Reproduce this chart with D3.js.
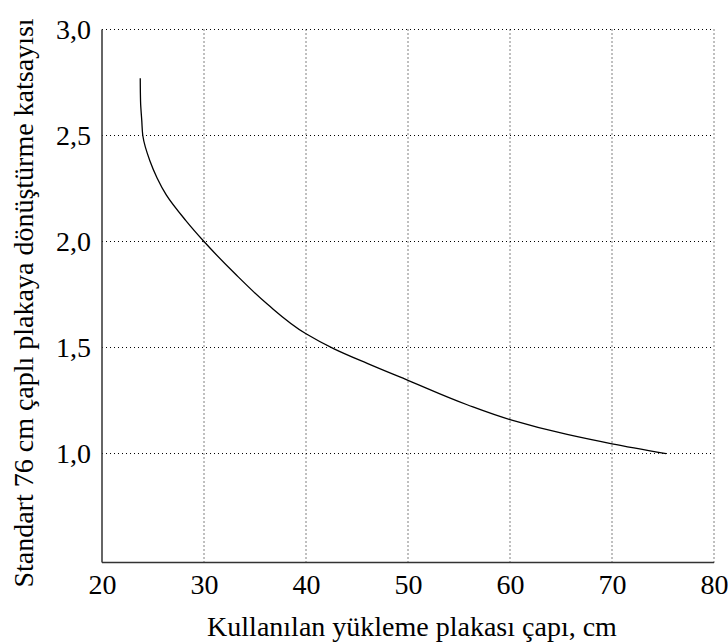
<!DOCTYPE html>
<html>
<head>
<meta charset="utf-8">
<script src="https://cdn.jsdelivr.net/npm/d3@7"></script>
<style>
  html, body { margin: 0; padding: 0; background: #fff; }
  svg { display: block; }
  text { font-family: "Liberation Serif", "Times New Roman", serif; fill: #000; }
</style>
</head>
<body>
<svg id="chart" width="728" height="644"></svg>
<script>
// Data
const plateDiameter = [23.75, 23.78, 23.9, 24.0, 24.7, 25.4, 26.3, 28.2, 30.0, 33.0, 36.2, 40.0, 42.7, 46.0, 50.0, 55.8, 60.0, 65.6, 70.0, 75.3];
const conversionFactor = [2.77, 2.66, 2.57, 2.50, 2.38, 2.30, 2.22, 2.10, 2.00, 1.85, 1.705, 1.565, 1.495, 1.425, 1.345, 1.23, 1.16, 1.09, 1.046, 1.0];
const xTicks = [20, 30, 40, 50, 60, 70, 80];
const yTicks = [1.0, 1.5, 2.0, 2.5, 3.0];
const xTitle = "Kullanılan yükleme plakası çapı, cm";
const yTitle = "Standart 76 cm çaplı plakaya dönüştürme katsayısı";

const SERIF = '"Liberation Serif", "Times New Roman", serif';
const svg = d3.select("#chart");
const pLeft = 102, pRight = 714, pTop = 29.5, pBottom = 562.5;

const x = d3.scaleLinear().domain([20, 80]).range([pLeft, pRight]);
const y = d3.scaleLinear().domain([0.486, 3.0]).range([pBottom, pTop]);

const fmt = d => d3.format(".1f")(d).replace(".", ",");

// Grid
svg.append("g").selectAll("line").data(xTicks.slice(1)).join("line")
  .attr("x1", d => x(d)).attr("x2", d => x(d))
  .attr("y1", pTop).attr("y2", pBottom)
  .attr("stroke", "#000").attr("stroke-width", 1).attr("stroke-dasharray", "1,3");
svg.append("g").selectAll("line").data(yTicks).join("line")
  .attr("x1", pLeft).attr("x2", pRight)
  .attr("y1", d => y(d)).attr("y2", d => y(d))
  .attr("stroke", "#000").attr("stroke-width", 1).attr("stroke-dasharray", "1,3");

// Axes
const xAxis = svg.append("g").attr("transform", `translate(0,${pBottom})`)
  .call(d3.axisBottom(x).tickValues(xTicks).tickSize(0).tickPadding(12).tickFormat(d3.format("d")));
const yAxis = svg.append("g").attr("transform", `translate(${pLeft},0)`)
  .call(d3.axisLeft(y).tickValues(yTicks).tickSize(0).tickPadding(11).tickFormat(fmt));
[xAxis, yAxis].forEach(g => {
  g.attr("font-family", SERIF).attr("font-size", 28);
  g.select(".domain").attr("stroke", "#333").attr("stroke-width", 1.5);
  g.selectAll("text").attr("fill", "#000")
    .style("font-family", SERIF).style("font-size", "28px");
});
yAxis.select(".domain").attr("d", `M0,${pBottom}V${pTop}`);
xAxis.select(".domain").attr("d", `M${pLeft},0H${pRight}`);

// Curve
const pts = plateDiameter.map((d, i) => [d, conversionFactor[i]]);
svg.append("path").datum(pts)
  .attr("fill", "none").attr("stroke", "#000").attr("stroke-width", 1.3)
  .attr("d", d3.line().x(d => x(d[0])).y(d => y(d[1])).curve(d3.curveMonotoneY));

// Titles
svg.append("text").attr("x", 412).attr("y", 636)
  .attr("text-anchor", "middle").style("font-family", SERIF).style("font-size", "28px").text(xTitle);
svg.append("text").attr("transform", `translate(33,303) rotate(-90)`)
  .attr("text-anchor", "middle").style("font-family", SERIF).style("font-size", "28px").text(yTitle);
</script>
</body>
</html>
